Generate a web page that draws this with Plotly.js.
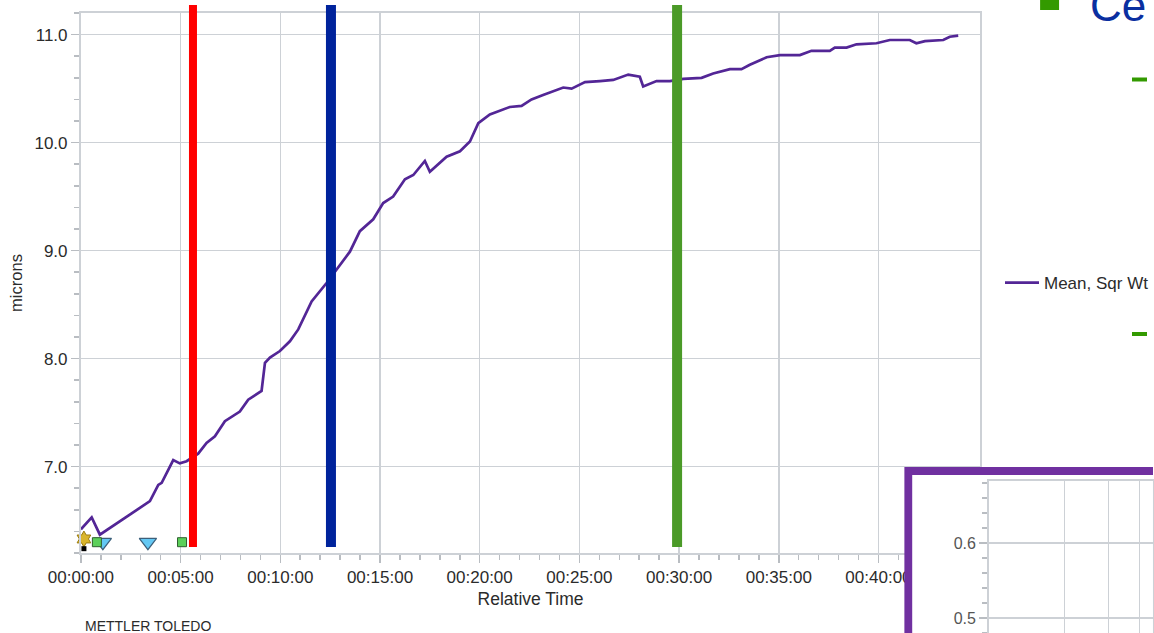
<!DOCTYPE html>
<html>
<head>
<meta charset="utf-8">
<script src="https://cdn.plot.ly/plotly-3.0.1.min.js"></script>
<style>html,body{margin:0;padding:0;background:#fff;}#chart{width:1154px;height:633px;}</style>
</head>
<body>
<div id="chart"></div>
<script>
// ---- data (relative time in minutes) ----
const timeMin = [0, 0.54, 0.95, 3.46, 3.88, 4.05, 4.63, 4.96, 5.30, 5.88,
  6.30, 6.72, 7.22, 7.97, 8.39, 9.06, 9.23, 9.48, 9.98, 10.48,
  10.90, 11.57, 12.32, 12.82, 13.49, 13.99, 14.66, 15.16, 15.66, 16.25,
  16.67, 17.25, 17.50, 18.34, 19.01, 19.51, 19.93, 20.51, 21.51, 22.10,
  22.60, 23.18, 24.19, 24.61, 25.28, 26.03, 26.70, 27.45, 28.03, 28.20,
  28.87, 29.54, 30.21, 31.13, 31.71, 32.55, 33.13, 33.55, 34.39, 35.06,
  36.06, 36.64, 37.56, 37.81, 38.40, 38.90, 39.90, 40.57, 41.57, 41.90,
  42.33, 43.25, 43.58, 44.00];
const meanSqrWt = [6.42, 6.53, 6.37, 6.68, 6.83, 6.85, 7.06, 7.03, 7.05, 7.12,
  7.22, 7.28, 7.42, 7.51, 7.62, 7.70, 7.96, 8.01, 8.07, 8.16,
  8.27, 8.53, 8.70, 8.82, 8.99, 9.18, 9.29, 9.44, 9.50, 9.66,
  9.70, 9.83, 9.73, 9.87, 9.92, 10.01, 10.18, 10.26, 10.33, 10.34,
  10.40, 10.44, 10.51, 10.50, 10.56, 10.57, 10.58, 10.63, 10.61, 10.52,
  10.57, 10.57, 10.59, 10.60, 10.64, 10.68, 10.68, 10.72, 10.79, 10.81,
  10.81, 10.85, 10.85, 10.88, 10.88, 10.91, 10.92, 10.95, 10.95, 10.92,
  10.94, 10.95, 10.98, 10.99];

const tickMinutes = [0, 5, 10, 15, 20, 25, 30, 35, 40];
const tickLabels = ['00:00:00', '00:05:00', '00:10:00', '00:15:00', '00:20:00', '00:25:00', '00:30:00', '00:35:00', '00:40:00'];

// sampling bars (minutes)
const barTimes = [5.62, 12.54, 29.90];
const barColors = ['#ff0000', '#00239c', '#4b9a28'];
const barWidths = [8, 10, 10];

// event markers on the time axis
const triangleTimes = [1.10, 3.36];
const pinTimes = [0.80, 5.07];
const gearTimes = [0.15];
const eventLevel = [6.30];

// inset axis
const insetXTicks = [1, 2, 3, 4];

// ---- helpers for pixel -> paper ----
const W = 1154, H = 633;
const PX = v => v / W;
const PY = v => (H - v) / H;

const FONT = 'Liberation Sans, Arial, Helvetica, sans-serif';
const GRID = '#cdd1d6';
const TXT = '#2b2b2b';

const traces = [
  {
    x: timeMin, y: meanSqrWt, type: 'scatter', mode: 'lines',
    name: 'Mean, Sqr Wt',
    line: {color: '#532696', width: 2.7},
    xaxis: 'x', yaxis: 'y'
  },
  {
    x: triangleTimes, y: triangleTimes.map(() => eventLevel[0]), type: 'scatter', mode: 'markers',
    marker: {symbol: 'triangle-down', size: 15, color: '#64c8f4', line: {color: '#3d5f7a', width: 1.2}},
    showlegend: false, cliponaxis: false, hoverinfo: 'skip'
  },
  {
    x: pinTimes, y: pinTimes.map(() => eventLevel[0]), type: 'scatter', mode: 'markers',
    marker: {symbol: 'square', size: 9, color: '#5cd05a', line: {color: '#2f5f2f', width: 1}},
    showlegend: false, cliponaxis: false, hoverinfo: 'skip'
  },
  {
    x: gearTimes, y: gearTimes.map(() => eventLevel[0] + 0.03), type: 'scatter', mode: 'markers',
    marker: {symbol: 'hexagram', size: 12, color: '#d9b52c', line: {color: '#9a7b10', width: 1}},
    showlegend: false, cliponaxis: false, hoverinfo: 'skip'
  },
  {
    x: gearTimes, y: gearTimes.map(() => eventLevel[0] - 0.06), type: 'scatter', mode: 'markers',
    marker: {symbol: 'square', size: 5, color: '#000000'},
    showlegend: false, cliponaxis: false, hoverinfo: 'skip'
  }
];

const shapes = [];
// inset frame (purple) + white interior, drawn in cover subplot x2y2 (registered first)
shapes.push({type: 'rect', xref: 'x2', yref: 'y2', x0: 0, x1: 1, y0: 0, y1: 1,
  fillcolor: '#7030a0', line: {width: 0}, layer: 'below'});
shapes.push({type: 'rect', xref: 'x2', yref: 'y2', x0: 8 / 249, x1: 1, y0: 0, y1: 1 - 8 / 166,
  fillcolor: '#ffffff', line: {width: 0}, layer: 'below'});
// reference to inset subplot x3y3 so it is created after the cover
shapes.push({type: 'line', xref: 'x3', yref: 'y3', x0: 1, x1: 1, y0: 0.5, y1: 0.5,
  line: {width: 0, color: 'rgba(0,0,0,0)'}, layer: 'below'});
barTimes.forEach((t, i) => {
  shapes.push({type: 'line', xref: 'x', yref: 'paper', x0: t, x1: t, y0: PY(547), y1: PY(5),
    line: {color: barColors[i], width: barWidths[i]}, layer: 'above'});
});
// slide bullets
shapes.push({type: 'rect', xref: 'paper', yref: 'paper', x0: PX(1041), x1: PX(1060), y0: PY(10), y1: PY(-2),
  fillcolor: '#339a00', line: {width: 0}, layer: 'above'});
shapes.push({type: 'rect', xref: 'paper', yref: 'paper', x0: PX(1133), x1: PX(1148), y0: PY(81.5), y1: PY(77.5),
  fillcolor: '#339a00', line: {width: 0}, layer: 'above'});
shapes.push({type: 'rect', xref: 'paper', yref: 'paper', x0: PX(1133), x1: PX(1148), y0: PY(336), y1: PY(332),
  fillcolor: '#339a00', line: {width: 0}, layer: 'above'});

const layout = {
  width: W, height: H,
  margin: {l: 0, r: 0, t: 0, b: 0},
  paper_bgcolor: '#ffffff', plot_bgcolor: 'rgba(0,0,0,0)',
  font: {family: FONT, color: TXT, size: 17},
  showlegend: true,
  legend: {x: PX(1001), y: PY(283), xanchor: 'left', yanchor: 'middle', itemwidth: 34,
    bgcolor: 'rgba(0,0,0,0)', font: {family: FONT, size: 17, color: TXT}},
  xaxis: {
    domain: [PX(81), PX(981)], anchor: 'y', range: [0, 45.1],
    tickmode: 'array', tickvals: tickMinutes, ticktext: tickLabels,
    ticks: 'outside', ticklen: 8, tickwidth: 1.5, tickcolor: '#b9bdc2',
    tickfont: {size: 17, color: TXT},
    showgrid: true, gridcolor: GRID, gridwidth: 1.5,
    showline: true, linecolor: GRID, linewidth: 2, mirror: true, zeroline: false,
    minor: {tickmode: 'linear', tick0: 0, dtick: 1, ticks: 'outside', ticklen: 5, tickcolor: '#b9bdc2', showgrid: false},
    title: {text: 'Relative Time', font: {size: 17.5, color: TXT}, standoff: 6}
  },
  yaxis: {
    domain: [PY(553), PY(13)], anchor: 'x', range: [6.2, 11.2],
    tick0: 0, dtick: 1, tickformat: '.1f',
    ticks: 'outside', ticklen: 8, tickwidth: 1.5, tickcolor: '#b9bdc2',
    tickfont: {size: 17, color: TXT},
    showgrid: true, gridcolor: GRID, gridwidth: 1.5,
    showline: true, linecolor: GRID, linewidth: 2, mirror: true, zeroline: false,
    minor: {tickmode: 'linear', tick0: 0, dtick: 0.2, ticks: 'outside', ticklen: 5, tickcolor: '#b9bdc2', showgrid: false},
    title: {text: 'microns', font: {size: 16.5, color: TXT}, standoff: 8}
  },
  // cover subplot for the inset frame (x2y2)
  xaxis2: {domain: [PX(905), 1], anchor: 'y2', range: [0, 1], visible: false, fixedrange: true},
  yaxis2: {domain: [0, PY(467)], anchor: 'x2', range: [0, 1], visible: false, fixedrange: true},
  // inset chart axes (x3y3)
  xaxis3: {
    domain: [PX(990), 1], anchor: 'y3', type: 'log', range: [0, Math.log10(4.53)],
    tickmode: 'array', tickvals: insetXTicks, showticklabels: false, ticks: '',
    showgrid: true, gridcolor: GRID, gridwidth: 1.5,
    showline: true, linecolor: GRID, linewidth: 2, mirror: true, zeroline: false
  },
  yaxis3: {
    domain: [0, PY(481)], anchor: 'x3', range: [0.48, 0.6827],
    tick0: 0, dtick: 0.1, tickformat: '.1f',
    ticks: 'outside', ticklen: 8, tickwidth: 1.5, tickcolor: '#b9bdc2',
    tickfont: {size: 16, color: '#555555'},
    showgrid: true, gridcolor: GRID, gridwidth: 1.5,
    showline: true, linecolor: GRID, linewidth: 2, mirror: true, zeroline: false,
    minor: {tickmode: 'linear', tick0: 0, dtick: 0.02, ticks: 'outside', ticklen: 5, tickcolor: '#b9bdc2', showgrid: false}
  },
  shapes: shapes,
  annotations: [
    {text: 'METTLER TOLEDO', xref: 'paper', yref: 'paper', x: PX(83), y: PY(626),
      xanchor: 'left', yanchor: 'middle', showarrow: false, font: {family: FONT, size: 14, color: TXT}},
    {text: 'Ce', xref: 'paper', yref: 'paper', x: PX(1089), y: PY(6),
      xanchor: 'left', yanchor: 'middle', showarrow: false, font: {family: FONT, size: 44, color: '#0a2fa0'}}
  ]
};

Plotly.newPlot('chart', traces, layout, {displayModeBar: false, staticPlot: true});
</script>
</body>
</html>
